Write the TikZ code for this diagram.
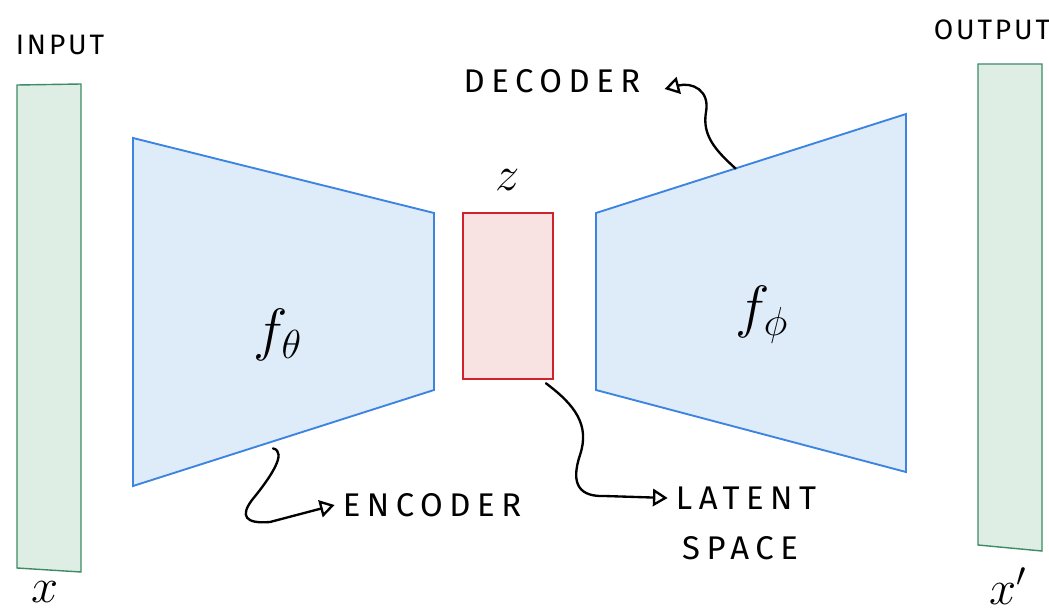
\documentclass[tikz,border=0pt]{standalone}
\usepackage{fontspec}
\usetikzlibrary{arrows.meta, calc}
\newfontfamily\handfont[LetterSpace=20]{Fira Sans}
\newfontfamily\handfontsmall[LetterSpace=10]{Fira Sans}
\definecolor{aegreen}{RGB}{60,140,100}
\definecolor{aegreenfill}{RGB}{222,238,229}
\definecolor{aeblue}{RGB}{60,132,224}
\definecolor{aebluefill}{RGB}{222,235,249}
\definecolor{aered}{RGB}{208,34,42}
\definecolor{aeredfill}{RGB}{248,226,226}

\begin{document}
\begin{tikzpicture}[
    % one unit = one pixel of the sketch, y running downwards
    x=0.015cm, y=-0.015cm,
    databar/.style={draw=aegreen, fill=aegreenfill, line width=0.6pt},
    network/.style={draw=aeblue, fill=aebluefill, line width=0.8pt},
    latentbox/.style={draw=aered, fill=aeredfill, line width=0.8pt, inner sep=0pt, minimum width=1.35cm, minimum height=2.5cm},
    handlabel/.style={font=\handfont\fontsize{14}{17}\selectfont, text=black},
    iolabel/.style={font=\handfontsmall\fontsize{12}{14}\selectfont, text=black},
    mathlabel/.style={font=\fontsize{26}{26}\selectfont},
    varlabel/.style={font=\fontsize{20}{20}\selectfont, inner sep=1pt},
    callout/.style={-{Triangle[open, length=2.2mm, width=2.6mm]}, line width=1pt, draw=black, line cap=round}
]
\useasboundingbox (0,0) rectangle (1049,614);

% ----------------------------------------------------
% Input and output data
% ----------------------------------------------------
\draw[databar] (17,85) -- (81,84) -- (81,572) -- (17,568) -- cycle;
\node[iolabel] (inlabel) at (60,45) {INPUT};
\node[varlabel] (xin) at (45,592) {$x$};

\draw[databar] (978,64) -- (1042,64) -- (1042,551) -- (978,545) -- cycle;
\node[iolabel] (outlabel) at (992,30) {OUTPUT};
\node[varlabel] (xout) at (1008,586) {$x'$};

% ----------------------------------------------------
% Encoder, latent code, decoder
% ----------------------------------------------------
\coordinate (enc-tl) at (133,138);
\coordinate (enc-tr) at (434,213);
\coordinate (enc-br) at (434,390);
\coordinate (enc-bl) at (133,486);
\draw[network] (enc-tl) -- (enc-tr) -- (enc-br) -- (enc-bl) -- cycle;
\node[mathlabel] (fenc) at (278,335) {$f_\theta$};

\node[latentbox] (zbox) at (508,296) {};
\node[mathlabel, font=\fontsize{20}{20}\selectfont] (zlabel) at (508,180) {$z$};

\coordinate (dec-tl) at (596,213);
\coordinate (dec-tr) at (906,114);
\coordinate (dec-br) at (906,472);
\coordinate (dec-bl) at (596,390);
\draw[network] (dec-tl) -- (dec-tr) -- (dec-br) -- (dec-bl) -- cycle;
\node[mathlabel] (fdec) at (762,315) {$f_\phi$};

% ----------------------------------------------------
% Callouts
% ----------------------------------------------------
\node[handlabel] (declabel) at (552,81) {DECODER};
\coordinate (dec-hook) at ($(dec-tl)!0.45!(dec-tr)$);
\draw[callout] (dec-hook) .. controls (715,150) and (702,135) .. (706,112)
    .. controls (710,90) and (692,82) .. ($(declabel.east)+(16,8)$);

\node[handlabel] (enclabel) at (432,505) {ENCODER};
\coordinate (enc-hook) at ($(enc-bl)!0.465!(enc-br)+(0,7)$);
\draw[callout] (enc-hook) .. controls (288,452) and (270,478) .. (252,500)
    .. controls (240,516) and (245,524) .. (270,522) -- (enclabel.west);

\node[handlabel] (latlabel) at (746,498) {LATENT};
\node[handlabel] (spacelabel) at (740,548) {SPACE};
\coordinate (lat-hook) at ($(zbox.south east)+(-8,3)$);
\draw[callout] (lat-hook) .. controls (575,405) and (590,425) .. (580,455)
    .. controls (570,485) and (580,497) .. (605,496) -- (latlabel.west);

\end{tikzpicture}
\end{document}
